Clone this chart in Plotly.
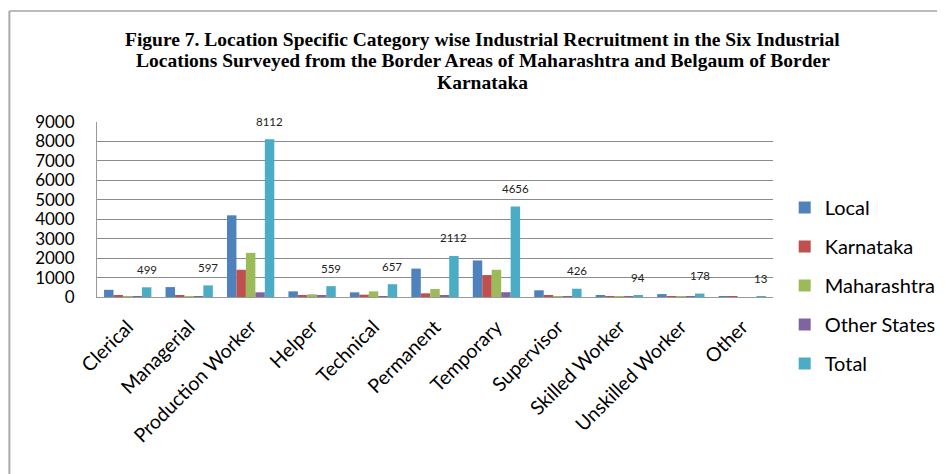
import plotly.graph_objects as go

categories = ["Clerical", "Managerial", "Production Worker", "Helper", "Technical",
              "Permanent", "Temporary", "Supervisor", "Skilled Worker",
              "Unskilled Worker", "Other"]
local = [370, 510, 4200, 290, 240, 1460, 1880, 345, 80, 150, 10]
karnataka = [90, 70, 1400, 70, 120, 190, 1130, 70, 10, 20, 3]
maharashtra = [25, 10, 2270, 140, 290, 410, 1400, 6, 2, 5, 0]
other_states = [14, 7, 242, 59, 7, 52, 246, 5, 2, 3, 0]
total = [499, 597, 8112, 559, 657, 2112, 4656, 426, 94, 178, 13]

series_names = ["Local", "Karnataka", "Maharashtra", "Other States", "Total"]
series_values = [local, karnataka, maharashtra, other_states, total]
colors = ["#4F81BD", "#C0504D", "#9BBB59", "#8064A2", "#4BACC6"]

title_lines = [
    "Figure 7. Location Specific Category wise Industrial Recruitment in the Six Industrial",
    "Locations Surveyed from the Border Areas of Maharashtra and Belgaum of Border",
    "Karnataka",
]

BARGAP = 0.23
FONT = "Lato, 'Open Sans', sans-serif"
SERIF = "'Liberation Serif', 'Times New Roman', serif"

fig = go.Figure()
for name, vals, col in zip(series_names, series_values, colors):
    fig.add_trace(go.Bar(
        name=name, x=categories, y=vals, marker_color=col,
        marker_line_width=0, legendgroup=name,
    ))

# data labels above Total bars
n = len(series_names)
offset = (n - 1) / 2 * (1 - BARGAP) / n
for idx, v in enumerate(total):
    fig.add_annotation(
        x=idx + offset, y=v, xref="x", yref="y", text=str(v),
        showarrow=False, yshift=18, yanchor="middle",
        font=dict(family=FONT, size=11.5, color="#222222"),
    )

# title, three lines
for line, yp in zip(title_lines, [1.469, 1.349, 1.223]):
    fig.add_annotation(
        x=0.571, y=yp, xref="paper", yref="paper", text="<b>%s</b>" % line,
        showarrow=False, xanchor="center", yanchor="middle",
        font=dict(family=SERIF, size=19.5, color="#000000"),
    )

# outer chart border (left and top)
fig.add_shape(type="line", xref="paper", yref="paper",
              x0=-0.1296, x1=1.3, y0=1.634, y1=1.634,
              line=dict(color="#BBBBBB", width=2))
fig.add_shape(type="line", xref="paper", yref="paper",
              x0=-0.1296, x1=-0.1296, y0=1.634, y1=-1.2,
              line=dict(color="#AAAAAA", width=2))

fig.update_layout(
    width=945, height=474,
    margin=dict(l=89, r=177, t=114, b=185),
    paper_bgcolor="white", plot_bgcolor="white",
    barmode="group", bargap=BARGAP, bargroupgap=0,
    font=dict(family=FONT, color="#000000"),
    legend=dict(x=1.0173, y=0.623, xanchor="left", yanchor="top",
                font=dict(family=FONT, size=20, color="#000000"),
                tracegroupgap=10, traceorder="grouped",
                maxheight=460,
                bgcolor="rgba(0,0,0,0)"),
    showlegend=True,
)
fig.update_xaxes(
    type="category", tickangle=-45, showgrid=False,
    showline=True, linecolor="#999999", linewidth=1,
    ticks="", tickfont=dict(family=FONT, size=19.5, color="#000000"),
    ticklabelstandoff=10,
)
fig.update_yaxes(
    range=[0, 9000], dtick=1000, tick0=0,
    showgrid=True, gridcolor="#8C8C8C", gridwidth=1,
    showline=True, linecolor="#999999", linewidth=1,
    zeroline=False, ticks="",
    tickfont=dict(family=FONT, size=17, color="#000000"),
    ticklabelstandoff=18,
)

fig.write_html("out.html")
